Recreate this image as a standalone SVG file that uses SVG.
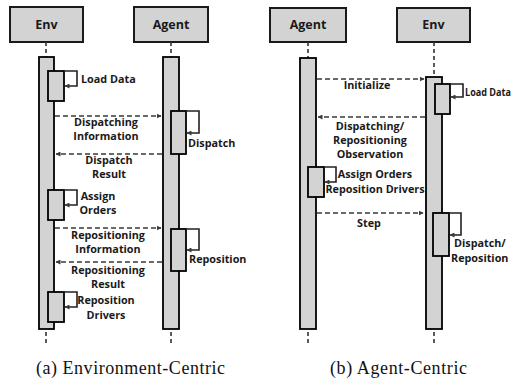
<svg xmlns="http://www.w3.org/2000/svg" width="517" height="379" viewBox="0 0 517 379">
<style>
.hdr{fill:#d3d3d3;stroke:#1a1a1a;stroke-width:2}
.bar{fill:#d3d3d3;stroke:#000;stroke-width:1.8}
.life{stroke:#333;stroke-width:1.6;stroke-dasharray:4,3;fill:none}
.msg{stroke:#3a3a3a;stroke-width:1.6;stroke-dasharray:5,3;fill:none}
.loop{stroke:#222;stroke-width:1.6;fill:none}
.ht{font-family:"Open Sans",Lato,sans-serif;font-weight:bold;font-size:12.5px;fill:#1a1a1a;text-anchor:middle}
.lb{font-family:"Open Sans",Lato,sans-serif;font-weight:bold;font-size:10.8px;fill:#1a1a1a}
.c{text-anchor:middle}
.cap{font-family:"Liberation Serif",serif;font-size:18px;fill:#111}
</style>
<defs>
<marker id="ah" viewBox="0 0 10 10" refX="9" refY="5" markerWidth="5" markerHeight="5" orient="auto" markerUnits="userSpaceOnUse">
<path d="M0,0 L10,5 L0,10 z" fill="#3a3a3a"/>
</marker>
</defs>

<g id="left-env">
<rect class="hdr" x="10" y="7" width="73" height="35"/>
<text class="ht" x="46.5" y="29">Env</text>
<line class="life" x1="46" y1="42" x2="46" y2="57"/>
<rect class="bar" x="39" y="57" width="15" height="272"/>
<line class="life" x1="46" y1="332" x2="46" y2="344"/>
<rect class="bar" x="48" y="71" width="16" height="30"/>
<rect class="bar" x="48" y="190" width="16" height="30"/>
<rect class="bar" x="48" y="292" width="16" height="30"/>
</g>
<g id="left-agent">
<rect class="hdr" x="134" y="7" width="74" height="35"/>
<text class="ht" x="171" y="29">Agent</text>
<line class="life" x1="171" y1="42" x2="171" y2="57"/>
<rect class="bar" x="163" y="57" width="16" height="272"/>
<line class="life" x1="171" y1="332" x2="171" y2="344"/>
<rect class="bar" x="171" y="111" width="15" height="43"/>
<rect class="bar" x="171" y="229" width="15" height="42"/>
</g>
<g id="right-agent">
<rect class="hdr" x="270" y="8" width="76" height="34"/>
<text class="ht" x="308" y="29">Agent</text>
<line class="life" x1="308" y1="42" x2="308" y2="58"/>
<rect class="bar" x="300" y="58" width="16" height="271"/>
<line class="life" x1="308" y1="332" x2="308" y2="344"/>
<rect class="bar" x="308" y="167" width="16" height="30"/>
</g>
<g id="right-env">
<rect class="hdr" x="397" y="8" width="73" height="34"/>
<text class="ht" x="433.5" y="29">Env</text>
<line class="life" x1="434" y1="42" x2="434" y2="77"/>
<rect class="bar" x="426" y="77" width="16" height="252"/>
<line class="life" x1="434" y1="332" x2="434" y2="344"/>
<rect class="bar" x="435" y="84" width="15" height="30"/>
<rect class="bar" x="433" y="213" width="16" height="43"/>
</g>

<g id="connectors">
<path class="loop" d="M64,71 H77 V86 H65" marker-end="url(#ah)"/>
<path class="loop" d="M64,190 H77 V205 H65" marker-end="url(#ah)"/>
<path class="loop" d="M64,292 H77 V307 H65" marker-end="url(#ah)"/>
<path class="loop" d="M186,111 H199 V133 H187" marker-end="url(#ah)"/>
<path class="loop" d="M186,229 H199 V250 H187" marker-end="url(#ah)"/>
<path class="loop" d="M450,84 H463 V97 H451" marker-end="url(#ah)"/>
<path class="loop" d="M324,167 H336 V182 H325" marker-end="url(#ah)"/>
<path class="loop" d="M449,213 H461 V235 H450" marker-end="url(#ah)"/>
<line class="msg" x1="55" y1="116" x2="161" y2="116" marker-end="url(#ah)"/>
<line class="msg" x1="162" y1="154" x2="56" y2="154" marker-end="url(#ah)"/>
<line class="msg" x1="55" y1="228" x2="161" y2="228" marker-end="url(#ah)"/>
<line class="msg" x1="162" y1="262" x2="56" y2="262" marker-end="url(#ah)"/>
<line class="msg" x1="317" y1="79" x2="424" y2="79" marker-end="url(#ah)"/>
<line class="msg" x1="425" y1="117" x2="318" y2="117" marker-end="url(#ah)"/>
<line class="msg" x1="317" y1="213" x2="423" y2="213" marker-end="url(#ah)"/>
</g>

<g id="labels">
<text class="lb" x="81" y="83">Load Data</text>
<text class="lb c" x="106" y="126">Dispatching</text>
<text class="lb c" x="106" y="140">Information</text>
<text class="lb" x="188" y="147">Dispatch</text>
<text class="lb c" x="109" y="164">Dispatch</text>
<text class="lb c" x="109" y="178">Result</text>
<text class="lb c" x="98" y="200">Assign</text>
<text class="lb c" x="98" y="214">Orders</text>
<text class="lb c" x="108" y="239">Repositioning</text>
<text class="lb c" x="108" y="253">Information</text>
<text class="lb" x="189" y="263">Reposition</text>
<text class="lb c" x="108" y="274">Repositioning</text>
<text class="lb c" x="108" y="288">Result</text>
<text class="lb c" x="106" y="304">Reposition</text>
<text class="lb c" x="106" y="319">Drivers</text>
<text class="lb c" x="367" y="89">Initialize</text>
<text class="lb" x="465" y="96" style="font-size:10.2px" textLength="46" lengthAdjust="spacingAndGlyphs">Load Data</text>
<text class="lb c" x="370" y="130">Dispatching/</text>
<text class="lb c" x="370" y="144">Repositioning</text>
<text class="lb c" x="370" y="158">Observation</text>
<text class="lb c" x="375" y="178">Assign Orders</text>
<text class="lb c" x="375" y="193">Reposition Drivers</text>
<text class="lb c" x="369" y="227">Step</text>
<text class="lb" x="454" y="247">Dispatch/</text>
<text class="lb" x="451" y="262">Reposition</text>
<text class="cap" x="36" y="374" textLength="189" lengthAdjust="spacing">(a)  Environment-Centric</text>
<text class="cap" x="330" y="374" textLength="137" lengthAdjust="spacing">(b)  Agent-Centric</text>
</g>
</svg>
